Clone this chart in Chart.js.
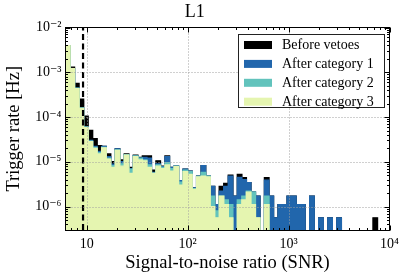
<!DOCTYPE html>
<html><head><meta charset="utf-8">
<script src="https://cdn.jsdelivr.net/npm/chart.js@4.4.1/dist/chart.umd.min.js"></script>
<style>html,body{margin:0;padding:0;background:#fff}</style>
</head><body>
<canvas id="c" width="411" height="274" style="width:411px;height:274px;display:block"></canvas>
<script>
// Histogram bin edges (SNR), log-spaced
const binEdges = [6.166, 6.836, 7.577, 8.401, 9.315, 10.33, 11.45, 12.69, 14.07, 15.60, 17.30, 19.18, 21.27, 23.57, 26.14, 28.97, 32.13, 35.62, 39.49, 43.78, 48.53, 53.81, 59.66, 66.14, 73.33, 81.28, 90.12, 99.91, 110.8, 122.8, 136.1, 150.9, 167.3, 185.5, 205.7, 228.0, 252.8, 280.3, 310.8, 344.5, 381.9, 423.5, 469.5, 520.5, 577.0, 639.7, 709.3, 786.3, 871.8, 966.5, 1072, 1188, 1317, 1460, 1619, 1795, 1990, 2206, 2446, 2712, 3006, 3333, 3695, 4097, 4542, 5035, 5583, 6189, 6862, 7607, 8433, 9350, 10366];

// Trigger rate [Hz] per bin
const beforeVetoes = [3.9e-3, 1.3e-3, 5.6e-4, 2.5e-4, 1.05e-4, 5.0e-5, 3.3e-5, 2.3e-5, 2.2e-5, 1.5e-5,
  1.0e-5, 1.95e-5, 1.1e-5, 1.5e-5, 7.5e-6, 1.4e-5, 1.25e-5, 1.35e-5, 1.35e-5, 6.5e-6,
  1.05e-5, 8.0e-6, 1.35e-5, 7.5e-6, 8.0e-6, 3.8e-6, 6.8e-6, 6.2e-6, 2.6e-6, 4.8e-6,
  8.2e-6, 4.8e-6, 2.8e-6, 1.1e-6, 2.8e-6, 3.3e-6, 5.0e-6, 1.7e-6, 5.2e-6, 4.4e-6,
  3.4e-6, 2.1e-6, 1.7e-6, 0, 4.4e-6, 1.7e-6, 5.6e-7, 1.1e-6, 1.1e-6, 1.7e-6,
  1.7e-6, 1.1e-6, 1.1e-6, 0, 1.7e-6, 0, 5.6e-7, 0, 5.6e-7, 0,
  5.6e-7, 0, 0, 0, 0, 0, 0, 0, 5.6e-7, 0, 0, 0];
const afterCategory1 = [3.9e-3, 1.2e-3, 4.4e-4, 1.6e-4, 6.0e-5, 3.0e-5, 2.2e-5, 1.7e-5, 2.2e-5, 1.3e-5,
  8.8e-6, 1.95e-5, 1.0e-5, 1.45e-5, 7.0e-6, 1.35e-5, 1.2e-5, 1.25e-5, 1.2e-5, 5.8e-6,
  9.0e-6, 7.8e-6, 1.3e-5, 7.5e-6, 8.0e-6, 3.8e-6, 6.8e-6, 6.2e-6, 2.6e-6, 4.8e-6,
  8.2e-6, 4.8e-6, 2.8e-6, 1.1e-6, 2.2e-6, 2.8e-6, 4.8e-6, 1.7e-6, 4.5e-6, 4.0e-6,
  3.4e-6, 2.1e-6, 1.7e-6, 0, 3.9e-6, 1.7e-6, 5.6e-7, 1.1e-6, 1.1e-6, 1.7e-6,
  1.7e-6, 1.1e-6, 1.1e-6, 0, 1.7e-6, 0, 5.6e-7, 0, 5.6e-7, 0,
  5.6e-7, 0, 0, 0, 0, 0, 0, 0, 0, 0, 0, 0];
const afterCategory2 = [3.9e-3, 1.2e-3, 4.4e-4, 1.6e-4, 6.0e-5, 2.9e-5, 2.1e-5, 1.6e-5, 2.1e-5, 1.2e-5,
  8.2e-6, 1.85e-5, 9.0e-6, 1.45e-5, 6.8e-6, 1.35e-5, 1.2e-5, 1.1e-5, 8.5e-6, 5.6e-6,
  8.5e-6, 7.5e-6, 9.5e-6, 7.0e-6, 8.0e-6, 3.5e-6, 6.5e-6, 6.0e-6, 2.5e-6, 4.7e-6,
  5.8e-6, 4.8e-6, 1.7e-6, 8.0e-7, 1.7e-6, 1.4e-6, 1.1e-6, 0, 1.4e-6, 1.7e-6,
  2.2e-6, 2.1e-6, 5.6e-7, 0, 1.7e-6, 0, 0, 0, 0, 0,
  0, 0, 0, 0, 0, 0, 0, 0, 0, 0,
  0, 0, 0, 0, 0, 0, 0, 0, 0, 0, 0, 0];
const afterCategory3 = [3.9e-3, 1.2e-3, 4.3e-4, 1.55e-4, 5.8e-5, 2.8e-5, 2.0e-5, 1.5e-5, 2.05e-5, 1.15e-5,
  7.5e-6, 1.8e-5, 8.0e-6, 1.4e-5, 5.5e-6, 1.3e-5, 1.1e-5, 1.05e-5, 7.5e-6, 5.5e-6,
  8.0e-6, 7.0e-6, 8.5e-6, 6.2e-6, 7.8e-6, 3.0e-6, 6.0e-6, 5.2e-6, 2.4e-6, 4.6e-6,
  4.8e-6, 4.6e-6, 1.0e-6, 5.6e-7, 1.7e-6, 1.1e-6, 5.6e-7, 0, 1.1e-6, 1.4e-6,
  2.1e-6, 1.1e-6, 5.6e-7, 0, 1.1e-6, 0, 0, 0, 0, 0,
  0, 0, 0, 0, 0, 0, 0, 0, 0, 0,
  0, 0, 0, 0, 0, 0, 0, 0, 0, 0, 0, 0];

const seriesLabels = ['Before vetoes', 'After category 1', 'After category 2', 'After category 3'];
const seriesColors = ['#000000', '#2166ac', '#62c3bc', '#e5f5b0'];
const xTickValues = [10, 100, 1000, 10000];
const xTickLabels = ['10', '10²', '10³', '10⁴'];
const yTickValues = [1e-2, 1e-3, 1e-4, 1e-5, 1e-6];
const yTickLabels = ['10⁻²', '10⁻³', '10⁻⁴', '10⁻⁵', '10⁻⁶'];
const snrThreshold = 9.2;
const xRange = [6.166, 1e4];
const yRange = [3e-7, 1e-2];

const FONT = "'Liberation Serif', 'DejaVu Serif', serif";
const FLOOR = 1e-12;

function stepPoints(values) {
  const pts = values.map((v, i) => ({x: binEdges[i], y: v > 0 ? v : FLOOR}));
  pts.push({x: binEdges[values.length], y: FLOOR});
  return pts;
}

const seriesValues = [beforeVetoes, afterCategory1, afterCategory2, afterCategory3];
const datasets = seriesValues.map((vals, i) => ({
  label: seriesLabels[i],
  data: stepPoints(vals),
  stepped: 'before',
  fill: 'start',
  backgroundColor: seriesColors[i],
  borderColor: seriesColors[i],
  borderWidth: 1.4,
  pointRadius: 0,
  tension: 0,
  clip: 0,
  order: 4 - i,
  isHist: true
}));
datasets.push({
  label: 'threshold',
  data: [{x: snrThreshold, y: yRange[0]}, {x: snrThreshold, y: yRange[1]}],
  borderColor: '#000',
  borderWidth: 2.2,
  borderDash: [6, 3.5],
  borderCapStyle: 'butt',
  pointRadius: 0,
  fill: false,
  clip: 0,
  order: 0
});

const decor = {
  id: 'decor',
  afterDatasetsDraw(chart) {
    // dotted grid at major ticks, drawn above the histogram fills
    const ctx = chart.ctx, a = chart.chartArea;
    const xs = chart.scales.x, ys = chart.scales.y;
    ctx.save();
    ctx.strokeStyle = '#a0a0a0';
    ctx.lineWidth = 1;
    ctx.setLineDash([1, 2]);
    ctx.beginPath();
    xTickValues.forEach(v => {
      const p = Math.round(xs.getPixelForValue(v)) + 0.5;
      if (p > a.left + 1 && p < a.right - 1) { ctx.moveTo(p, a.top); ctx.lineTo(p, a.bottom); }
    });
    yTickValues.forEach(v => {
      const p = Math.round(ys.getPixelForValue(v)) + 0.5;
      if (p > a.top + 1 && p < a.bottom - 1) { ctx.moveTo(a.left, p); ctx.lineTo(a.right, p); }
    });
    ctx.stroke();
    ctx.restore();
  },
  afterDraw(chart) {
    const ctx = chart.ctx, a = chart.chartArea;
    const xs = chart.scales.x, ys = chart.scales.y;
    const L = Math.floor(a.left) + 0.5, R = Math.floor(a.right) + 0.5;
    const T = Math.floor(a.top) + 0.5, B = Math.floor(a.bottom) + 0.5;
    ctx.save();
    ctx.strokeStyle = '#000';
    ctx.lineWidth = 1;
    ctx.beginPath();
    for (let n = 0; n <= 4; n++) {
      for (let k = 1; k <= 9; k++) {
        const v = k * Math.pow(10, n);
        if (v < xRange[0] || v > xRange[1]) continue;
        const p = Math.round(xs.getPixelForValue(v)) + 0.5;
        const len = k === 1 ? 5 : 2.5;
        ctx.moveTo(p, B); ctx.lineTo(p, B - len);
        ctx.moveTo(p, T); ctx.lineTo(p, T + len);
      }
    }
    for (let n = -7; n <= -2; n++) {
      for (let k = 1; k <= 9; k++) {
        const v = k * Math.pow(10, n);
        if (v < yRange[0] || v > yRange[1] * 1.0001) continue;
        const p = Math.round(ys.getPixelForValue(v)) + 0.5;
        const len = k === 1 ? 5 : 2.5;
        ctx.moveTo(L, p); ctx.lineTo(L + len, p);
        ctx.moveTo(R, p); ctx.lineTo(R - len, p);
      }
    }
    ctx.stroke();
    ctx.strokeRect(L, T, R - L, B - T);

    // legend
    const bx = 238.5, by = 34.5, bw = 146, bh = 73;
    ctx.fillStyle = '#fff';
    ctx.fillRect(bx, by, bw, bh);
    ctx.strokeStyle = '#222';
    ctx.strokeRect(bx, by, bw, bh);
    ctx.font = '14px ' + FONT;
    ctx.textBaseline = 'middle';
    ctx.textAlign = 'left';
    const hist = chart.data.datasets.filter(d => d.isHist);
    hist.forEach((d, i) => {
      const cy = 45 + i * 18.9;
      ctx.fillStyle = d.backgroundColor;
      ctx.fillRect(244, cy - 4, 28, 8);
      ctx.fillStyle = '#000';
      ctx.fillText(d.label, 282, cy + 0.5);
    });
    ctx.restore();
  }
};

new Chart(document.getElementById('c'), {
  type: 'line',
  data: {datasets},
  options: {
    responsive: false,
    animation: false,
    events: [],
    layout: {padding: {left: 0, right: 21.5, top: 0, bottom: 0}},
    plugins: {
      legend: {display: false},
      tooltip: {enabled: false},
      title: {display: true, text: 'L1', color: '#000',
        font: {family: FONT, size: 18, weight: 'normal'}, padding: {top: 1, bottom: 4.9}}
    },
    scales: {
      x: {
        type: 'logarithmic', min: xRange[0], max: xRange[1],
        afterBuildTicks: s => { s.ticks = xTickValues.map(v => ({value: v})); },
        afterFit: s => { s.height = 44; },
        grid: {display: false, drawTicks: false},
        border: {display: false},
        ticks: {autoSkip: false, maxRotation: 0, padding: 6, color: '#000',
          font: {family: FONT, size: 14},
          callback: v => { const i = xTickValues.indexOf(v); return i >= 0 ? xTickLabels[i] : ''; }},
        title: {display: true, text: 'Signal-to-noise ratio (SNR)', color: '#000',
          font: {family: FONT, size: 18.5}, padding: {top: 0, bottom: 0}}
      },
      y: {
        type: 'logarithmic', min: yRange[0], max: yRange[1],
        afterBuildTicks: s => { s.ticks = yTickValues.map(v => ({value: v})); },
        afterFit: s => { s.width = 65.5; },
        grid: {display: false, drawTicks: false},
        border: {display: false},
        ticks: {autoSkip: false, padding: 4, color: '#000',
          font: {family: FONT, size: 14},
          callback: v => { const i = yTickValues.indexOf(v); return i >= 0 ? yTickLabels[i] : ''; }},
        title: {display: true, text: 'Trigger rate [Hz]', color: '#000',
          font: {family: FONT, size: 18.5}, padding: {top: 3, bottom: 0}}
      }
    }
  },
  plugins: [decor]
});
</script>
</body></html>
